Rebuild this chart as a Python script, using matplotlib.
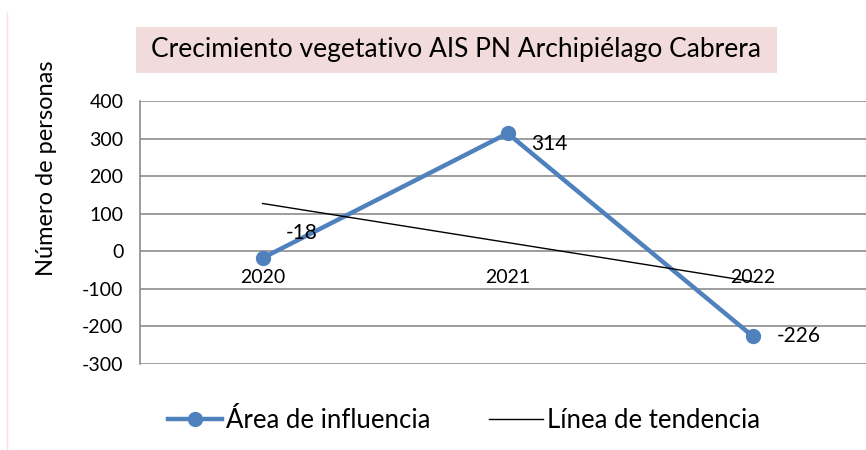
import matplotlib.pyplot as plt
import numpy as np
from matplotlib.lines import Line2D
from matplotlib.patches import Rectangle

plt.rcParams['font.family'] = ['Lato', 'DejaVu Sans']

years = ['2020', '2021', '2022']
values = [-18, 314, -226]
yticks = [-300, -200, -100, 0, 100, 200, 300, 400]

blue = '#4F81BD'
grid_col = '#8C8C8C'

fig = plt.figure(figsize=(8.66, 4.5), dpi=100)
ax = fig.add_axes([0.1617, 0.191, 0.849, 0.5845])

x = np.arange(len(years))
ax.plot(x, values, color=blue, lw=3.2, marker='o', ms=10, zorder=3)

# linear trend line
k, b = np.polyfit(x, values, 1)
ax.plot(x, k * x + b, color='black', lw=1.0, zorder=4)

# data labels
offsets = [(17, 18), (17, -8), (17, 0)]
for xi, v, off in zip(x, values, offsets):
    ax.annotate(str(v), (xi, v), xytext=off, textcoords='offset points',
                ha='left', va='center', fontsize=15)

# x labels sit at y=0, like the category axis in the original
ax.spines['bottom'].set_position(('data', 0))
ax.spines['bottom'].set_visible(False)
ax.spines['top'].set_visible(False)
ax.spines['right'].set_visible(False)
ax.spines['left'].set_color(grid_col)
ax.spines['left'].set_linewidth(1.2)

ax.set_xlim(-0.5, 2.5)
ax.set_ylim(-300, 400)
ax.set_yticks(yticks)
ax.set_yticklabels([str(t) for t in yticks])
ax.set_xticks(x)
ax.set_xticklabels(years)
ax.tick_params(axis='x', length=0, pad=13, labelsize=14)
ax.tick_params(axis='y', length=0, pad=12, labelsize=14)
ax.yaxis.grid(True, color=grid_col, lw=1.2)
ax.set_axisbelow(True)

# title box
fig.patches.append(Rectangle((136 / 866, 1 - 73 / 450), 641 / 866, 46 / 450,
                             transform=fig.transFigure, facecolor='#F2DCDB',
                             edgecolor='none', zorder=0))
fig.text(456 / 866, 1 - 50 / 450, 'Crecimiento vegetativo AIS PN Archipiélago Cabrera',
         ha='center', va='center', fontsize=19)

fig.text(47 / 866, 1 - 168 / 450, 'Número de personas', rotation=90,
         ha='center', va='center', fontsize=17)

# faint chart border at left
fig.add_artist(Line2D([7 / 866, 7 / 866], [0, 1 - 12 / 450], transform=fig.transFigure,
                      color='#F6E4E4', lw=1))

handles = [Line2D([], [], color=blue, lw=3.2, marker='o', ms=10),
           Line2D([], [], color='black', lw=1.0)]
fig.legend(handles, ['Área de influencia', 'Línea de tendencia'],
           loc='center', bbox_to_anchor=(464 / 866, 1 - 420 / 450), ncol=2,
           frameon=False, fontsize=18.5, handlelength=2.1, handletextpad=0.15,
           columnspacing=2.3)

fig.savefig('out.png', dpi=100)
